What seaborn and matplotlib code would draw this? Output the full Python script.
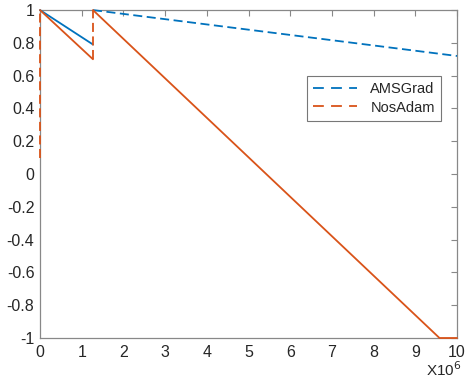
import matplotlib
matplotlib.use('Agg')
import matplotlib.pyplot as plt
import seaborn as sns

# AMSGrad segments (x in units of 1e6)
ams_solid_x = [0, 1.27]
ams_solid_y = [1.0, 0.79]
ams_dash_x = [1.27, 10]
ams_dash_y = [1.0, 0.72]

# NosAdam segments
nos_jump0_x = [0, 0]
nos_jump0_y = [0.1, 1.0]
nos_solid1_x = [0, 1.27]
nos_solid1_y = [1.0, 0.7]
nos_jump1_x = [1.27, 1.27]
nos_jump1_y = [0.7, 1.0]
nos_solid2_x = [1.27, 9.58, 10]
nos_solid2_y = [1.0, -1.0, -1.0]

xticks = list(range(0, 11))
yticks = [-1, -0.8, -0.6, -0.4, -0.2, 0, 0.2, 0.4, 0.6, 0.8, 1]
ytick_labels = ['-1', '-0.8', '-0.6', '-0.4', '-0.2', '0', '0.2', '0.4', '0.6', '0.8', '1']

BLUE = '#0072BD'
ORANGE = '#D95319'

sns.set_style('white')
plt.rcParams['font.family'] = ['Liberation Sans', 'DejaVu Sans']

fig = plt.figure(figsize=(4.68, 3.8), dpi=100)
ax = fig.add_axes([0.0855, 0.1105, 0.891, 0.863])

def seg(x, y, color, dashed):
    line_ax = sns.lineplot(x=x, y=y, ax=ax, color=color, lw=1.3, sort=False,
                           estimator=None, dashes=False,
                           linestyle=(0, (5, 2.5)) if dashed else '-')
    line_ax.lines[-1].set_clip_on(False)
    line_ax.lines[-1].set_zorder(5)

seg(ams_solid_x, ams_solid_y, BLUE, False)
seg(ams_dash_x, ams_dash_y, BLUE, True)
seg(nos_jump0_x, nos_jump0_y, ORANGE, True)
seg(nos_solid1_x, nos_solid1_y, ORANGE, False)
seg(nos_jump1_x, nos_jump1_y, ORANGE, True)
seg(nos_solid2_x, nos_solid2_y, ORANGE, False)

ax.set_xlim(0, 10)
ax.set_ylim(-1, 1)
ax.set_xticks(xticks)
ax.set_xticklabels([str(t) for t in xticks])
ax.set_yticks(yticks)
ax.set_yticklabels(ytick_labels)
ax.tick_params(direction='in', length=4, width=0.8, color='#888888',
               labelsize=11.5, top=True, right=True)
ax.tick_params(axis='x', pad=5)
ax.tick_params(axis='y', pad=4)
for s in ax.spines.values():
    s.set_color('#888888')
    s.set_linewidth(0.9)

ax.text(1.01, -0.068, r'X10$^6$', transform=ax.transAxes, ha='right', va='top',
        fontsize=11)

handles = [plt.Line2D([], [], color=BLUE, lw=1.3, linestyle=(0, (6, 4))),
           plt.Line2D([], [], color=ORANGE, lw=1.3, linestyle=(0, (6, 4)))]
leg = ax.legend(handles, ['AMSGrad', 'NosAdam'], loc='upper left',
                bbox_to_anchor=(0.64, 0.80), borderaxespad=0, fontsize=10.5,
                frameon=True, fancybox=False, edgecolor='#555555',
                handlelength=3.0, handletextpad=0.9, borderpad=0.45,
                labelspacing=0.3)
leg.get_frame().set_linewidth(0.8)

fig.savefig('out.png', dpi=100)
